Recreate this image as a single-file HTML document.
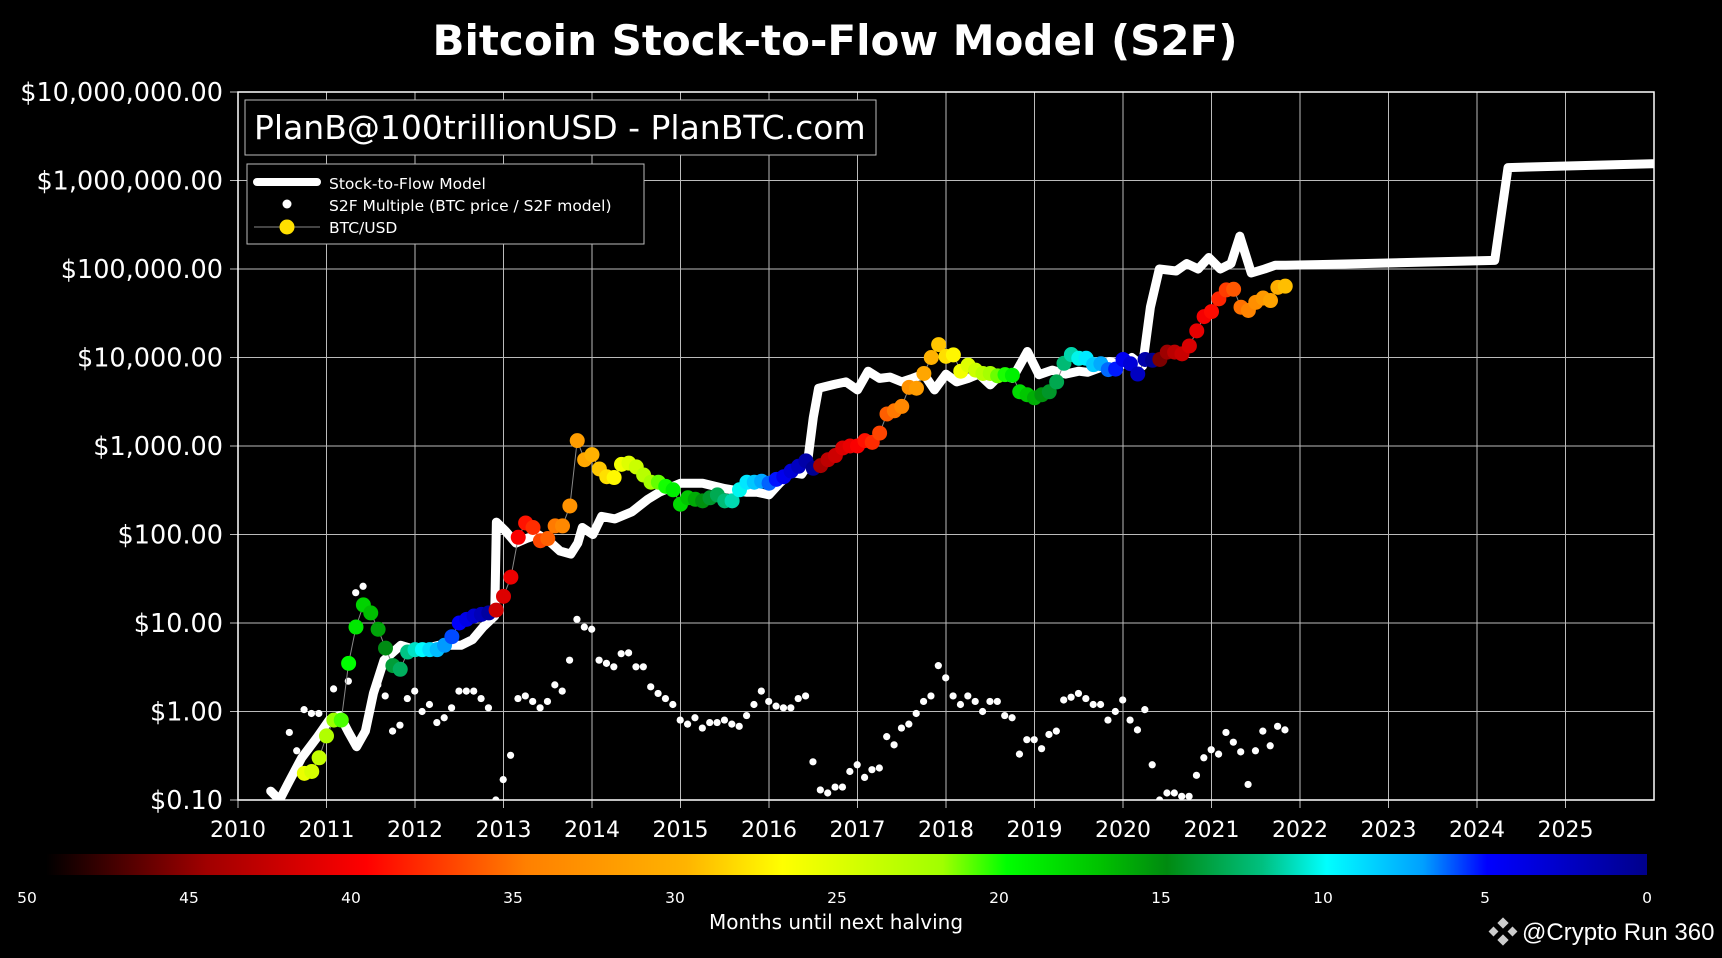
<!DOCTYPE html>
<html><head><meta charset="utf-8"><style>
html,body{margin:0;padding:0;background:#000;}
body{width:1722px;height:954px;overflow:hidden;font-family:"DejaVu Sans","Liberation Sans",sans-serif;}
</style></head><body>
<svg id="chart" width="1722" height="954" viewBox="0 0 1722 954" xmlns="http://www.w3.org/2000/svg">
<defs>
<clipPath id="pc"><rect x="238" y="92" width="1416" height="708"/></clipPath>
<linearGradient id="cb" x1="0" x2="1" y1="0" y2="0">
<stop offset="0" stop-color="#000"/><stop offset="0.1" stop-color="#a00000"/><stop offset="0.2" stop-color="#ff0000"/>
<stop offset="0.3" stop-color="#ff8000"/><stop offset="0.4" stop-color="#ffb400"/><stop offset="0.46" stop-color="#ffff00"/>
<stop offset="0.56" stop-color="#a0ff00"/><stop offset="0.6" stop-color="#00ff00"/><stop offset="0.66" stop-color="#00c000"/>
<stop offset="0.7" stop-color="#008a10"/><stop offset="0.76" stop-color="#00c080"/><stop offset="0.8" stop-color="#00ffff"/>
<stop offset="0.86" stop-color="#00a0ff"/><stop offset="0.9" stop-color="#0000ff"/><stop offset="1" stop-color="#00008b"/>
</linearGradient>
</defs>
<text x="835" y="55" fill="#fff" font-size="42" font-weight="bold" text-anchor="middle">Bitcoin Stock-to-Flow Model (S2F)</text>
<g id="grid"></g>
<g id="yticks"></g>
<g id="xticks"></g>
<g clip-path="url(#pc)">
<path id="model" fill="none" stroke="#fff" stroke-width="9" stroke-linejoin="round" stroke-linecap="round"/>
<g id="mult"></g>
<path id="btcline" fill="none" stroke="#888" stroke-width="1"/>
<g id="btc"></g>
</g>
<rect x="238" y="92" width="1416" height="708" fill="none" stroke="#fff" stroke-width="1.5"/>
<rect x="245" y="100" width="631" height="55" fill="#000" stroke="#bbb" stroke-width="1"/>
<text x="254" y="139" fill="#fff" font-size="33">PlanB@100trillionUSD - PlanBTC.com</text>
<g>
<rect x="247" y="164" width="397" height="80" fill="#000" stroke="#bbb" stroke-width="1"/>
<line x1="257" y1="182" x2="317" y2="182" stroke="#fff" stroke-width="8" stroke-linecap="round"/>
<text x="329" y="189" fill="#fff" font-size="15.5">Stock-to-Flow Model</text>
<circle cx="287" cy="204" r="4.5" fill="#fff"/>
<text x="329" y="211" fill="#fff" font-size="15.5">S2F Multiple (BTC price / S2F model)</text>
<line x1="254" y1="227" x2="320" y2="227" stroke="#888" stroke-width="1"/>
<circle cx="287" cy="227" r="7.5" fill="#ffe000"/>
<text x="329" y="233" fill="#fff" font-size="15.5">BTC/USD</text>
</g>
<rect x="46" y="854" width="1601" height="21" fill="url(#cb)"/>
<g id="cbticks"></g>
<text x="836" y="929" fill="#fff" font-size="20" text-anchor="middle">Months until next halving</text>
<g>
<g transform="translate(1503,931)" fill="#ccc">
<rect x="-4" y="-12" width="8" height="8" transform="rotate(45 0 -8)"/><rect x="-13" y="-3" width="7" height="7" transform="rotate(45 -9.5 0.5)"/><rect x="6" y="-3" width="7" height="7" transform="rotate(45 9.5 0.5)"/><rect x="-4" y="5" width="8" height="8" transform="rotate(45 0 9)"/>
</g>
<text x="1522" y="940" fill="#fff" font-size="24" font-family="Liberation Sans, sans-serif">@Crypto Run 360</text>
</g>
</svg>
<script>
const yearTicks=[2010,2011,2012,2013,2014,2015,2016,2017,2018,2019,2020,2021,2022,2023,2024,2025];
const priceTicks=[0.1,1,10,100,1000,10000,100000,1000000,10000000];
const priceTickLabels=["$0.10","$1.00","$10.00","$100.00","$1,000.00","$10,000.00","$100,000.00","$1,000,000.00","$10,000,000.00"];
const monthTicks=[50,45,40,35,30,25,20,15,10,5,0];
const halvings=[2012.91,2016.52,2020.36,2024.3];
const modelYears=[2010.37,2010.47,2010.56,2010.72,2010.9,2011.03,2011.15,2011.25,2011.34,2011.44,2011.53,2011.65,2011.84,2012.03,2012.27,2012.52,2012.65,2012.77,2012.9,2012.92,2013.02,2013.14,2013.26,2013.39,2013.51,2013.64,2013.76,2013.84,2013.89,2014.01,2014.11,2014.26,2014.45,2014.63,2014.76,2015.0,2015.25,2015.5,2015.75,2015.87,2016.0,2016.12,2016.25,2016.37,2016.43,2016.5,2016.56,2016.75,2016.87,2017.0,2017.12,2017.25,2017.37,2017.5,2017.62,2017.75,2017.87,2018.0,2018.12,2018.25,2018.37,2018.5,2018.62,2018.75,2018.92,2019.05,2019.2,2019.35,2019.5,2019.6,2019.73,2019.85,2019.98,2020.1,2020.22,2020.31,2020.41,2020.6,2020.72,2020.85,2020.97,2021.1,2021.22,2021.32,2021.45,2021.6,2021.72,2021.84,2022.2,2024.2,2024.35,2026];
const modelValues=[0.126,0.1,0.15,0.3,0.52,0.8,0.9,0.58,0.4,0.6,1.6,3.8,5.6,4.9,5.6,5.6,6.5,9,12,138,110,80,90,100,85,65,60,80,120,100,160,150,180,250,300,380,380,330,300,300,280,380,500,480,600,2100,4500,5000,5300,4300,7000,5800,6000,5300,5800,6500,4300,6500,5300,5800,6500,4900,6500,5800,11700,6400,7200,6500,7000,6800,7600,9000,8200,10000,8000,37000,100000,95000,115000,100000,135000,100000,115000,235000,90000,100000,110000,110000,112000,125000,1400000,1550000];
const btcStart=2010.75;
const btcPrices=[0.2,0.21,0.3,0.53,0.8,0.8,3.5,9,16,13,8.5,5.2,3.3,3,4.7,5,5,5,5,5.6,7,10,11,12,12.5,13,14,20,33,93,135,120,85,90,125,125,210,1150,700,800,550,450,440,620,640,580,470,390,390,350,320,220,260,250,240,260,280,240,240,320,390,390,400,380,420,450,520,590,680,560,600,700,780,950,1000,1000,1150,1100,1400,2300,2500,2800,4600,4500,6600,10000,14000,10300,10700,7000,8200,7200,6600,6600,6200,6400,6300,4100,3800,3500,3800,4100,5300,8600,10800,9800,9800,8300,8500,7300,7400,9500,8500,6500,9500,9300,9500,11500,11500,11000,13500,20000,29000,33000,46000,58000,59000,37000,34000,42000,47000,44000,62000,64000];
const multStart=2010.58;
const multValues=[0.58,0.36,1.05,0.95,0.95,0.55,1.8,0.8,2.2,22,26,13,2.0,1.5,0.6,0.7,1.4,1.7,1.0,1.2,0.75,0.85,1.1,1.7,1.7,1.7,1.4,1.1,0.1,0.17,0.32,1.4,1.5,1.3,1.1,1.3,2.0,1.7,3.8,11,9,8.5,3.8,3.5,3.2,4.5,4.6,3.2,3.2,1.9,1.6,1.4,1.2,0.8,0.72,0.85,0.65,0.75,0.75,0.8,0.72,0.68,0.9,1.2,1.7,1.3,1.15,1.1,1.1,1.4,1.5,0.27,0.13,0.12,0.14,0.14,0.21,0.25,0.18,0.22,0.23,0.52,0.42,0.65,0.72,0.95,1.3,1.5,3.3,2.4,1.5,1.2,1.5,1.3,1.0,1.3,1.3,0.9,0.85,0.33,0.48,0.48,0.38,0.55,0.6,1.35,1.45,1.6,1.4,1.2,1.2,0.8,1.0,1.35,0.8,0.62,1.05,0.25,0.1,0.12,0.12,0.11,0.11,0.19,0.3,0.37,0.33,0.58,0.45,0.35,0.15,0.36,0.6,0.41,0.68,0.62];

const NS="http://www.w3.org/2000/svg";
const X=y=>238+(y-2010)*88.5;
const Y=v=>92+(7-Math.log10(v))*88.5;
function mk(tag,attrs,parent){const e=document.createElementNS(NS,tag);for(const k in attrs)e.setAttribute(k,attrs[k]);parent.appendChild(e);return e;}
const grid=document.getElementById('grid'),yt=document.getElementById('yticks'),xt=document.getElementById('xticks');
yearTicks.forEach(y=>{
  const l=mk('line',{x1:X(y),x2:X(y),y1:92,y2:808,stroke:'#bbb','stroke-width':1},grid);
  
  
  const t=mk('text',{x:X(y),y:837,fill:'#fff','font-size':22,'text-anchor':'middle'},xt);
  t.textContent=y;
  
  
});
priceTicks.forEach((v,i)=>{
  const l=mk('line',{x1:230,x2:1654,y1:Y(v),y2:Y(v),stroke:'#bbb','stroke-width':1},grid);
  
  
  const t=mk('text',{x:223,y:Y(v)+9,fill:'#fff','font-size':25.5,'text-anchor':'end'},yt);
  t.textContent=priceTickLabels[i];
  
  
});
const cbt=document.getElementById('cbticks');
monthTicks.forEach(m=>{
  const t=mk('text',{x:27+(50-m)/50*1620,y:903,fill:'#fff','font-size':15.5,'text-anchor':'middle'},cbt);
  t.textContent=m;
  
  
});
document.getElementById('model').setAttribute('d',modelYears.map((y,i)=>(i?'L':'M')+X(y).toFixed(1)+','+Y(modelValues[i]).toFixed(1)).join(''));
const mg=document.getElementById('mult');
multValues.forEach((v,i)=>{
  const c=mk('circle',{cx:X(multStart+i/12),cy:Y(v),r:3.6,fill:'#fff'},mg);
  
  
});
const stops=[[50,[0,0,0]],[45,[180,0,0]],[40,[255,0,0]],[35,[255,128,0]],[30,[255,180,0]],[27,[255,255,0]],[22,[160,255,0]],[20,[0,255,0]],[17,[0,192,0]],[15,[0,138,16]],[12,[0,192,128]],[10,[0,255,255]],[7,[0,160,255]],[5,[0,0,255]],[0,[0,0,139]]];
function col(m){m=Math.max(0,Math.min(50,m));for(let i=0;i<stops.length-1;i++){const[a,ca]=stops[i],[b,cb]=stops[i+1];if(m<=a&&m>=b){const t=(a-m)/(a-b);return 'rgb('+ca.map((c,k)=>Math.round(c+(cb[k]-c)*t)).join(',')+')';}}return '#000';}
function monthsToHalving(y){for(const h of halvings){if(h>y)return (h-y)*12;}return 0;}
const bg=document.getElementById('btc');
let d='';
btcPrices.forEach((v,i)=>{
  const y=btcStart+i/12;
  d+=(i?'L':'M')+X(y).toFixed(1)+','+Y(v).toFixed(1);
  const c=mk('circle',{cx:X(y),cy:Y(v),r:7.5,fill:col(monthsToHalving(y))},bg);
  
  
});
document.getElementById('btcline').setAttribute('d',d);
</script>
</body></html>
